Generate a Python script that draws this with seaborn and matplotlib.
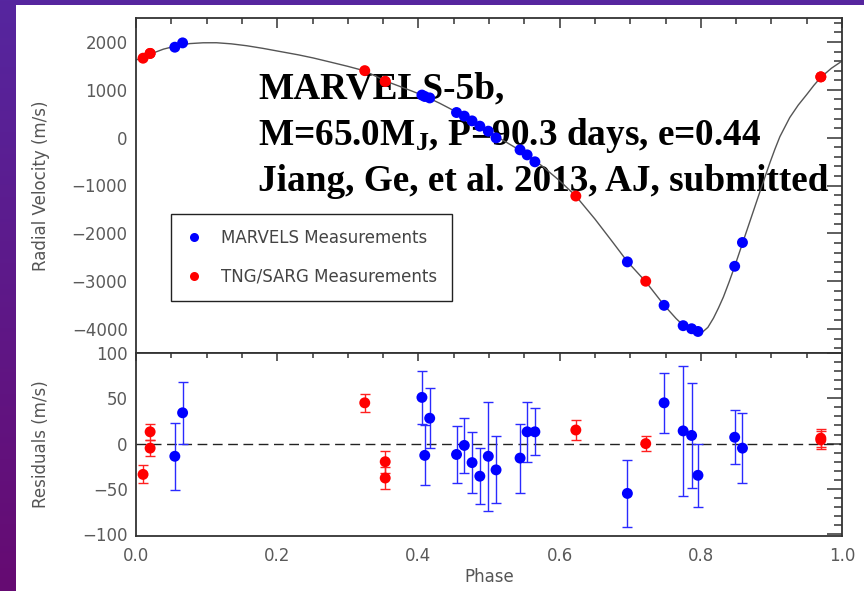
import numpy as np
import pandas as pd
import matplotlib
matplotlib.use("Agg")
import matplotlib.pyplot as plt
import seaborn as sns
from matplotlib.patches import Rectangle
from matplotlib.lines import Line2D
from matplotlib.ticker import MultipleLocator, FixedLocator
from matplotlib.colors import LinearSegmentedColormap

# ---------------- data ----------------
marvels_phase = [0.055, 0.066, 0.405, 0.409, 0.416, 0.454, 0.465, 0.476, 0.487, 0.499,
                 0.510, 0.544, 0.554, 0.565, 0.696, 0.748, 0.775, 0.787, 0.796, 0.848, 0.859]
marvels_rv = [1890, 1980, 890, 860, 830, 525, 450, 350, 240, 135,
              -5, -255, -360, -505, -2596, -3504, -3929, -3993, -4050, -2688, -2191]
marvels_resid = [-14, 34, 51, -13, 28, -12, -2, -21, -36, -14,
                 -29, -16, 13, 13, -55, 45, 14, 9, -35, 7, -5]
marvels_err = [37, 34, 29, 33, 33, 31, 30, 34, 31, 60,
               37, 38, 33, 26, 37, 33, 72, 58, 35, 30, 39]

sarg_phase = [0.010, 0.020, 0.020, 0.324, 0.353, 0.353, 0.623, 0.722, 0.970, 0.970]
sarg_rv = [1660, 1760, 1760, 1400, 1175, 1175, -1220, -3000, 1270, 1270]
sarg_resid = [-34, 13, -5, 45, -20, -38, 15, 0, 6, 4]
sarg_err = [10, 9, 9, 10, 12, 12, 11, 8, 10, 10]

curve_phase = [0.000, 0.020, 0.039, 0.058, 0.076, 0.095, 0.114, 0.135, 0.157, 0.180,
               0.204, 0.230, 0.251, 0.275, 0.300, 0.324, 0.354, 0.380, 0.407, 0.430,
               0.454, 0.476, 0.500, 0.525, 0.550, 0.575, 0.600, 0.623, 0.650, 0.675,
               0.696, 0.722, 0.748, 0.765, 0.775, 0.787, 0.796, 0.803, 0.810, 0.818,
               0.825, 0.832, 0.840, 0.848, 0.859, 0.870, 0.881, 0.890, 0.898, 0.905,
               0.912, 0.926, 0.938, 0.950, 0.960, 0.970, 0.985, 1.000]
curve_rv = [1620, 1745, 1850, 1920, 1965, 1982, 1983, 1960, 1920, 1865,
            1800, 1730, 1665, 1580, 1490, 1395, 1180, 1035, 880, 720,
            535, 340, 115, -100, -320, -590, -900, -1220, -1700, -2180,
            -2590, -3010, -3500, -3780, -3920, -4010, -4050, -4055, -3965, -3770,
            -3560, -3330, -3020, -2690, -2210, -1730, -1250, -860, -520, -240,
            20, 420, 680, 900, 1090, 1260, 1450, 1600]

labels = ["MARVELS Measurements", "TNG/SARG Measurements"]
title_lines = ["MARVELS-5b,", "M=65.0M$_{\\mathbf{J}}$, P=90.3 days, e=0.44",
               "Jiang, Ge, et al. 2013, AJ, submitted"]
x_ticks = [0.0, 0.2, 0.4, 0.6, 0.8, 1.0]
rv_ticks = [-4000, -3000, -2000, -1000, 0, 1000, 2000]
res_ticks = [-100, -50, 0, 50, 100]

# ---------------- tables ----------------
df = pd.DataFrame({
    "phase": marvels_phase + sarg_phase,
    "rv": marvels_rv + sarg_rv,
    "resid": marvels_resid + sarg_resid,
    "err": marvels_err + sarg_err,
    "inst": [labels[0]] * len(marvels_phase) + [labels[1]] * len(sarg_phase),
})
curve = pd.DataFrame({"phase": curve_phase, "rv": curve_rv})
pal = {labels[0]: "#0000ff", labels[1]: "#ff0000"}
err_col = {labels[0]: "#2a2aff", labels[1]: "#ff2020"}

sns.set_theme(style="white")
plt.rcParams["font.family"] = ["DejaVu Sans"]
plt.rcParams["mathtext.fontset"] = "custom"
plt.rcParams["mathtext.bf"] = "Liberation Serif:bold"
plt.rcParams["mathtext.rm"] = "Liberation Serif:bold"
plt.rcParams["mathtext.it"] = "Liberation Serif:bold"

W, H = 864, 591
fig = plt.figure(figsize=(W / 100, H / 100), dpi=100)
fig.patch.set_facecolor("white")

# slide background: purple gradient with white panel
bg = fig.add_axes([0, 0, 1, 1], zorder=-10)
grad = np.linspace(0, 1, 256).reshape(-1, 1)
cmap = LinearSegmentedColormap.from_list("bgp", ["#56269f", "#660b72"])
bg.imshow(grad, aspect="auto", cmap=cmap, extent=[0, 1, 0, 1], origin="upper")
bg.add_patch(Rectangle((16 / W, 0), 1, 1 - 5 / H, color="white", lw=0))
bg.set_xlim(0, 1)
bg.set_ylim(0, 1)
bg.axis("off")

left, right = 136 / W, 842 / W
y_top, y_mid, y_bot = 1 - 18 / H, 1 - 353 / H, 1 - 536 / H
ax1 = fig.add_axes([left, y_mid, right - left, y_top - y_mid])
ax2 = fig.add_axes([left, y_bot, right - left, y_mid - y_bot])
for ax in (ax1, ax2):
    ax.set_facecolor("white")

# ---------------- top panel ----------------
for i, line in enumerate(title_lines):
    ax1.text(0.173, [0.761, 0.621, 0.483][i], line, transform=ax1.transAxes,
             family="Liberation Serif", weight="bold", fontsize=26.8, color="black",
             va="baseline", ha="left", zorder=0.5)

sns.lineplot(data=curve, x="phase", y="rv", sort=False, estimator=None,
             color="#555555", lw=1.0, ax=ax1, zorder=2)
sns.scatterplot(data=df, x="phase", y="rv", hue="inst", palette=pal, s=62,
                linewidth=0, legend=False, ax=ax1, zorder=3)
ax1.set_xlim(0, 1)
ax1.set_ylim(-4500, 2500)
ax1.set_xlabel("")
ax1.set_ylabel("Radial Velocity (m/s)", color="#555555", fontsize=12)

handles = [Line2D([], [], ls="none", marker="o", ms=6.5, mfc=pal[l], mec="none") for l in labels]
leg = ax1.legend(handles, labels, loc="upper left", bbox_to_anchor=(0.0496, 0.415),
                 borderaxespad=0, frameon=True, fancybox=False, fontsize=12,
                 labelspacing=1.25, borderpad=0.9, handletextpad=1.1, handlelength=1.0,
                 framealpha=1)
leg.get_frame().set_edgecolor("#222222")
leg.get_frame().set_linewidth(1.0)
for t in leg.get_texts():
    t.set_color("#444444")

# ---------------- residual panel ----------------
for lab in labels:
    sub = df[df["inst"] == lab]
    ax2.errorbar(sub["phase"], sub["resid"], yerr=sub["err"], fmt="none",
                 ecolor=err_col[lab], elinewidth=1.0, capsize=3.5, capthick=1.0, zorder=2)
sns.scatterplot(data=df, x="phase", y="resid", hue="inst", palette=pal, s=62,
                linewidth=0, legend=False, ax=ax2, zorder=3)
ax2.axhline(0, color="#222222", lw=1.0, ls=(0, (7, 4)), zorder=1)
ax2.set_xlim(0, 1)
ax2.set_ylim(-102, 100)
ax2.set_xlabel("Phase", color="#555555", fontsize=12, labelpad=2)
ax2.set_ylabel("Residuals (m/s)", color="#555555", fontsize=12)

# ---------------- axes styling ----------------
for ax in (ax1, ax2):
    for s in ax.spines.values():
        s.set_color("#333333")
        s.set_linewidth(1.3)
        s.set_visible(True)
    ax.xaxis.set_major_locator(FixedLocator(x_ticks))
    ax.xaxis.set_minor_locator(MultipleLocator(0.05))
    ax.tick_params(which="both", direction="in", top=True, right=True,
                   colors="#333333", labelcolor="#5a5a5a", labelsize=12, width=1.1)
    ax.yaxis.set_label_coords(-0.122, 0.5)

ax1.yaxis.set_major_locator(FixedLocator(rv_ticks))
ax1.yaxis.set_minor_locator(MultipleLocator(200))
ax1.tick_params(axis="y", which="major", length=11, pad=6)
ax1.tick_params(axis="y", which="minor", length=6)
ax1.tick_params(axis="x", which="major", length=7, labelbottom=False)
ax1.tick_params(axis="x", which="minor", length=4)

ax2.yaxis.set_major_locator(FixedLocator(res_ticks))
ax2.yaxis.set_minor_locator(MultipleLocator(10))
ax2.tick_params(axis="y", which="major", length=11, pad=6)
ax2.tick_params(axis="y", which="minor", length=6)
ax2.tick_params(axis="x", which="major", length=6, pad=8)
ax2.tick_params(axis="x", which="minor", length=3.5)
ax2.set_xticklabels(["0.0", "0.2", "0.4", "0.6", "0.8", "1.0"])

fig.savefig("out.png", dpi=100, facecolor=fig.get_facecolor())
